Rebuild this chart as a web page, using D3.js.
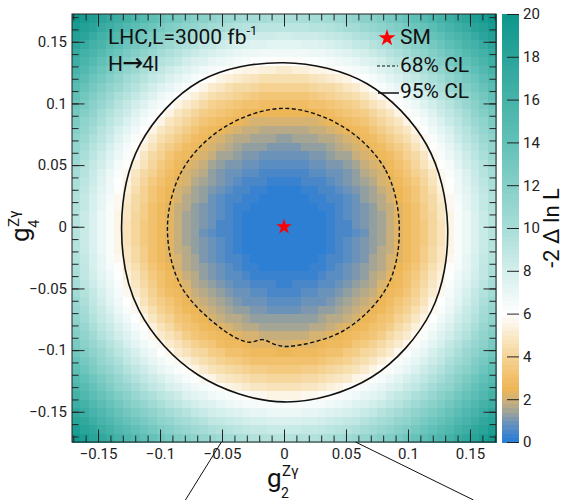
<!DOCTYPE html>
<html>
<head>
<meta charset="utf-8">
<script src="https://cdn.jsdelivr.net/npm/d3@7"></script>
<style>
  body { margin: 0; background: #fff; }
  svg { display: block; font-family: Roboto, "Noto Sans", sans-serif; }
</style>
</head>
<body>
<div id="chart"></div>
<script>
// axis ranges and binning of the 2D likelihood histogram
const g2Range = [-0.171, 0.171];
const g4Range = [-0.1745, 0.1725];
const nBins = 50;
const axisTicks = [-0.15, -0.1, -0.05, 0, 0.05, 0.1, 0.15];
const minorTicks = d3.range(-17, 18).map(d => d / 100);
const zTicks = [0, 2, 4, 6, 8, 10, 12, 14, 16, 18, 20];

// -2 Delta lnL read along the radius from the SM point
const profileR   = [0, 0.02, 0.035, 0.05, 0.065, 0.08, 0.094, 0.11, 0.125, 0.138, 0.15, 0.17, 0.19, 0.21, 0.24];
const profileNLL = [0, 0.06, 0.2, 0.55, 1.0, 1.6, 2.3, 3.3, 4.6, 6.0, 7.2, 9.6, 12.5, 15.5, 20.0];
const fieldCenter = [0, -0.003];

// colour palette of the z axis
const paletteZ = [0, 0.25, 0.5, 1, 1.5, 2, 2.5, 3, 4, 5, 6, 8, 10, 14, 20];
const paletteColor = ["#287ed6", "#3481d2", "#4a87c9", "#7395b4", "#a5a595", "#d0b277", "#edb757", "#f1bf69",
                      "#f5d497", "#f9e9c9", "#ffffff", "#d3efec", "#a8ddd8", "#62c1b8", "#0e968b"];

// contour lines, [g2, g4]
const cl68 = [[0.093, 0], [0.0814, 0.047], [0.047, 0.0814], [0, 0.096], [-0.047, 0.0814], [-0.0814, 0.047],
              [-0.094, 0], [-0.0831, -0.048], [-0.0485, -0.084], [-0.029, -0.0935], [-0.017, -0.0915],
              [-0.007, -0.0955], [0.004, -0.097], [0.0485, -0.084], [0.0835, -0.048]];
const cl95 = [[0.132, 0], [0.115, 0.0665], [0.067, 0.116], [0, 0.133], [-0.068, 0.118], [-0.116, 0.067],
              [-0.131, 0], [-0.117, -0.0675], [-0.0695, -0.12], [0, -0.142], [0.0705, -0.122], [0.1187, -0.0685]];
const smPoint = [0, 0];
const zoomLines = [[[-0.0505, -0.1745], [-0.0795, -0.2215]], [[0.0577, -0.1745], [0.1528, -0.2215]]];

const width = 564, height = 500;
const frame = {left: 72, right: 496, top: 14, bottom: 442};
const bar = {left: 502, right: 519};

const svg = d3.select("#chart").append("svg")
  .attr("width", width)
  .attr("height", height);

const x = d3.scaleLinear().domain(g2Range).range([frame.left, frame.right]);
const y = d3.scaleLinear().domain(g4Range).range([frame.bottom, frame.top]);
const z = d3.scaleLinear().domain([0, 20]).range([frame.bottom, frame.top]);
const nll = d3.scaleLinear().domain(profileR).range(profileNLL).clamp(true);
const color = d3.scaleLinear().domain(paletteZ).range(paletteColor).clamp(true);
const level = v => Math.min(19.9, Math.floor(v / 0.2) * 0.2 + 0.1);

// heat map cells
const bx = (g2Range[1] - g2Range[0]) / nBins;
const by = (g4Range[1] - g4Range[0]) / nBins;
const cells = d3.cross(d3.range(nBins), d3.range(nBins)).map(([i, j]) => {
  const cx = g2Range[0] + (i + 0.5) * bx;
  const cy = g4Range[0] + (j + 0.5) * by;
  return {i, j, v: nll(Math.hypot(cx - fieldCenter[0], cy - fieldCenter[1]))};
});

svg.append("g")
  .attr("shape-rendering", "crispEdges")
  .selectAll("rect")
  .data(cells)
  .enter()
  .append("rect")
  .attr("x", d => x(g2Range[0] + d.i * bx))
  .attr("y", d => y(g4Range[0] + (d.j + 1) * by))
  .attr("width", d => x(g2Range[0] + (d.i + 1) * bx) - x(g2Range[0] + d.i * bx) + 0.5)
  .attr("height", d => y(g4Range[0] + d.j * by) - y(g4Range[0] + (d.j + 1) * by) + 0.5)
  .attr("fill", d => color(level(d.v)));

// contours
const line = d3.line()
  .x(d => x(d[0]))
  .y(d => y(d[1]))
  .curve(d3.curveCatmullRomClosed);

svg.append("path")
  .attr("d", line(cl95))
  .attr("fill", "none")
  .attr("stroke", "#111")
  .attr("stroke-width", 1.6);

svg.append("path")
  .attr("d", line(cl68))
  .attr("fill", "none")
  .attr("stroke", "#111")
  .attr("stroke-width", 1.4)
  .attr("stroke-dasharray", "4,2.5");

// SM point
svg.append("path")
  .attr("d", d3.symbol(d3.symbolStar, 75)())
  .attr("transform", `translate(${x(smPoint[0])},${y(smPoint[1])})`)
  .attr("fill", "#ff0000");

// frame axes, ROOT style ticks inside
function styleAxis(g) {
  g.select(".domain").remove();
  g.selectAll(".tick line").attr("stroke", "#222");
  g.selectAll(".tick text").attr("fill", "#222").style("font-size", "15px").style("font-family", "Roboto");
}
const fmt = d3.format("~g");

svg.append("g").attr("transform", `translate(0,${frame.bottom})`)
  .call(d3.axisBottom(x).tickValues(minorTicks).tickSize(-6.5).tickFormat(""))
  .call(styleAxis);
svg.append("g").attr("transform", `translate(0,${frame.bottom})`)
  .call(d3.axisBottom(x).tickValues(axisTicks).tickSize(-12.5).tickPadding(6).tickFormat(fmt))
  .call(styleAxis);
svg.append("g").attr("transform", `translate(0,${frame.top})`)
  .call(d3.axisTop(x).tickValues(minorTicks).tickSize(-6.5).tickFormat(""))
  .call(styleAxis);
svg.append("g").attr("transform", `translate(0,${frame.top})`)
  .call(d3.axisTop(x).tickValues(axisTicks).tickSize(-12.5).tickFormat(""))
  .call(styleAxis);
svg.append("g").attr("transform", `translate(${frame.left},0)`)
  .call(d3.axisLeft(y).tickValues(minorTicks).tickSize(-6.5).tickFormat(""))
  .call(styleAxis);
svg.append("g").attr("transform", `translate(${frame.left},0)`)
  .call(d3.axisLeft(y).tickValues(axisTicks).tickSize(-12.5).tickPadding(5).tickFormat(fmt))
  .call(styleAxis);
svg.append("g").attr("transform", `translate(${frame.right},0)`)
  .call(d3.axisRight(y).tickValues(minorTicks).tickSize(-6.5).tickFormat(""))
  .call(styleAxis);
svg.append("g").attr("transform", `translate(${frame.right},0)`)
  .call(d3.axisRight(y).tickValues(axisTicks).tickSize(-12.5).tickFormat(""))
  .call(styleAxis);

svg.append("rect")
  .attr("x", frame.left).attr("y", frame.top)
  .attr("width", frame.right - frame.left).attr("height", frame.bottom - frame.top)
  .attr("fill", "none").attr("stroke", "#222").attr("stroke-width", 1);

// colour bar
const barLevels = d3.range(0, 20, 0.2);
svg.append("g")
  .attr("shape-rendering", "crispEdges")
  .selectAll("rect")
  .data(barLevels)
  .enter()
  .append("rect")
  .attr("x", bar.left)
  .attr("width", bar.right - bar.left)
  .attr("y", d => z(d + 0.2))
  .attr("height", d => z(d) - z(d + 0.2) + 0.5)
  .attr("fill", d => color(d + 0.1));

svg.append("g").attr("transform", `translate(${bar.right},0)`)
  .call(d3.axisRight(z).tickValues(zTicks).tickSize(-12).tickPadding(4))
  .call(styleAxis);

svg.append("text")
  .attr("transform", `translate(559,${z(10)}) rotate(-90)`)
  .attr("text-anchor", "middle")
  .style("font-size", "22px")
  .attr("fill", "#111")
  .text("-2 Δ ln L");

// axis titles
const xt = svg.append("g").attr("fill", "#111");
xt.append("text").attr("x", 267).attr("y", 487).style("font-size", "26px").text("g");
xt.append("text").attr("x", 282).attr("y", 476).style("font-size", "15px").text("Zγ");
xt.append("text").attr("x", 281).attr("y", 498).style("font-size", "14px").text("2");

const yt = svg.append("g").attr("fill", "#111").attr("transform", "translate(29,242) rotate(-90)");
yt.append("text").attr("x", 0).attr("y", 0).style("font-size", "26px").text("g");
yt.append("text").attr("x", 15).attr("y", -10).style("font-size", "15px").text("Zγ");
yt.append("text").attr("x", 14).attr("y", 10).style("font-size", "15px").text("4");

// labels
const lab = svg.append("g").attr("fill", "#111").style("font-size", "21px");
const lhc = lab.append("text").attr("x", 108).attr("y", 44);
lhc.append("tspan").text("LHC,L=3000 fb");
lhc.append("tspan").attr("dy", -9).style("font-size", "13px").text("-1");
const h4l = lab.append("text").attr("x", 108).attr("y", 71);
h4l.append("tspan").text("H");
h4l.append("tspan").style("font-family", "DejaVu Sans").style("font-size", "25px").attr("dx", -1).text("→");
h4l.append("tspan").attr("dx", -1).text("4l");

// legend
lab.append("path")
  .attr("d", d3.symbol(d3.symbolStar, 90)())
  .attr("transform", "translate(387,38)")
  .attr("fill", "#ff0000");
lab.append("text").attr("x", 400).attr("y", 44).text("SM");
lab.append("line").attr("x1", 377).attr("x2", 398).attr("y1", 66).attr("y2", 66)
  .attr("stroke", "#111").attr("stroke-width", 1.2).attr("stroke-dasharray", "3,2");
lab.append("text").attr("x", 400).attr("y", 72).text("68% CL");
lab.append("line").attr("x1", 378).attr("x2", 399).attr("y1", 93).attr("y2", 93)
  .attr("stroke", "#111").attr("stroke-width", 1.5);
lab.append("text").attr("x", 400).attr("y", 98).text("95% CL");

// zoom guide lines below the frame
svg.append("g")
  .selectAll("line")
  .data(zoomLines)
  .enter()
  .append("line")
  .attr("x1", d => x(d[0][0])).attr("y1", d => y(d[0][1]))
  .attr("x2", d => x(d[1][0])).attr("y2", d => y(d[1][1]))
  .attr("stroke", "#111").attr("stroke-width", 1);
</script>
</body>
</html>
